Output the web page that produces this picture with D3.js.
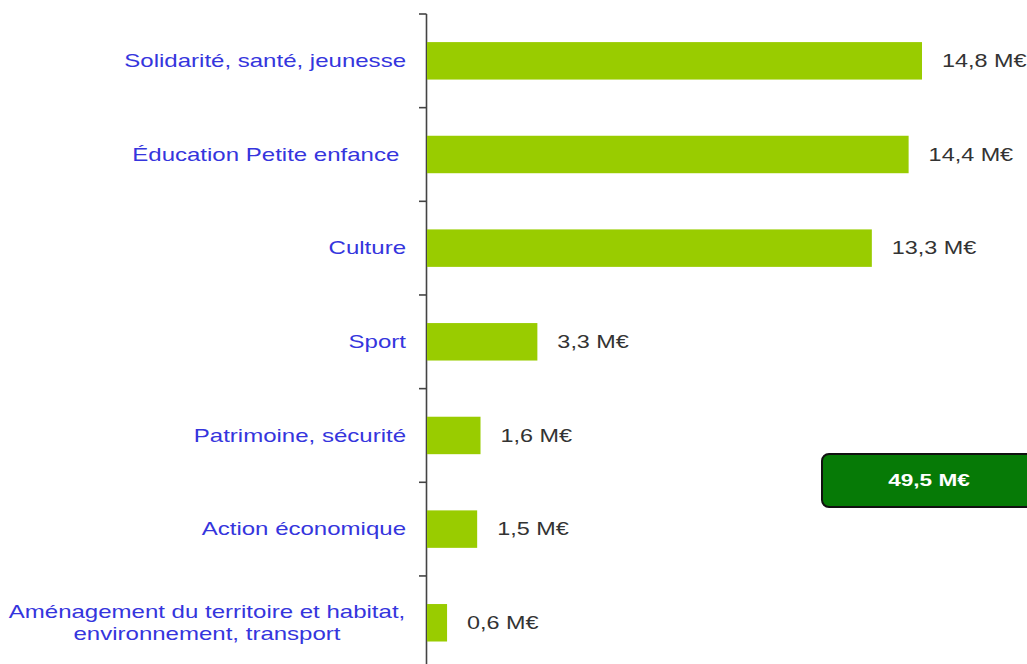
<!DOCTYPE html>
<html><head><meta charset="utf-8">
<script src="https://cdn.jsdelivr.net/npm/d3@7"></script>
<style>html,body{margin:0;padding:0;background:#fff;}svg{display:block;} text{white-space:pre;}</style>
</head><body>
<svg id="c" width="1027" height="664"></svg>
<script>
const categories = [
  "Solidarité, santé, jeunesse",
  "Éducation Petite enfance ",
  "Culture",
  "Sport",
  "Patrimoine, sécurité",
  "Action économique",
  "Aménagement du territoire et habitat,|environnement, transport"
];
const values = [14.8, 14.4, 13.3, 3.3, 1.6, 1.5, 0.6];
const valueLabels = ["14,8 M€","14,4 M€","13,3 M€","3,3 M€","1,6 M€","1,5 M€","0,6 M€"];
const totalLabel = "49,5 M€";

const svg = d3.select("#c");
const font = "Liberation Sans, Arial, sans-serif";
const x0 = 427;
const x = d3.scaleLinear().domain([0, 14.8]).range([x0, 922]);
const y = d3.scaleBand().domain(categories).range([14, 669.6]).paddingInner(0.6).paddingOuter(0.3);
const step = y.step();

// axis line
svg.append("line").attr("x1", x0-0.5).attr("x2", x0-0.5).attr("y1", 14).attr("y2", 664)
  .attr("stroke", "#444").attr("stroke-width", 1.6);
const bounds = categories.map((c,i)=> 14 + i*step);
svg.selectAll("line.tk").data(bounds).enter().append("line").attr("class","tk")
  .attr("x1", x0-8).attr("x2", x0-0.5).attr("y1", d=>d).attr("y2", d=>d)
  .attr("stroke", "#444").attr("stroke-width", 1.6);

// bars
svg.selectAll("rect.bar").data(values).enter().append("rect").attr("class","bar")
  .attr("x", x0).attr("y", (d,i)=>y(categories[i]))
  .attr("width", d=>x(d)-x0).attr("height", y.bandwidth())
  .attr("fill", "#99cc00");

function stretchedText(px, py, anchor, size, sx, fill, str, bold) {
  return svg.append("text")
    .attr("transform", `translate(${px},${py}) scale(${sx},1)`)
    .attr("text-anchor", anchor).attr("dy", "0.35em")
    .attr("font-family", font).attr("font-size", size)
    .attr("font-weight", bold ? "bold" : "normal")
    .attr("fill", fill).text(str);
}

// value labels
values.forEach((d,i)=>{
  stretchedText(x(d)+20, y(categories[i])+y.bandwidth()/2, "start", 18, 1.3, "#333", valueLabels[i]);
});

// category labels
categories.forEach((c,i)=>{
  const lines = c.split("|");
  const cy = y(c)+y.bandwidth()/2;
  const lh = 22;
  if (lines.length === 1) {
    stretchedText(406, cy, "end", 18, 1.335, "#3535dd", lines[0]);
  } else {
    lines.forEach((l,j)=>{
      stretchedText(207, cy + (j-(lines.length-1)/2)*lh, "middle", 18, 1.335, "#3535dd", l);
    });
  }
});

// total box
svg.append("rect").attr("x", 822).attr("y", 454).attr("width", 230).attr("height", 53)
  .attr("rx", 7).attr("fill", "#067a06").attr("stroke", "#111").attr("stroke-width", 2);
stretchedText(929, 480.5, "middle", 17, 1.33, "#fff", totalLabel, true);
</script>
</body></html>
